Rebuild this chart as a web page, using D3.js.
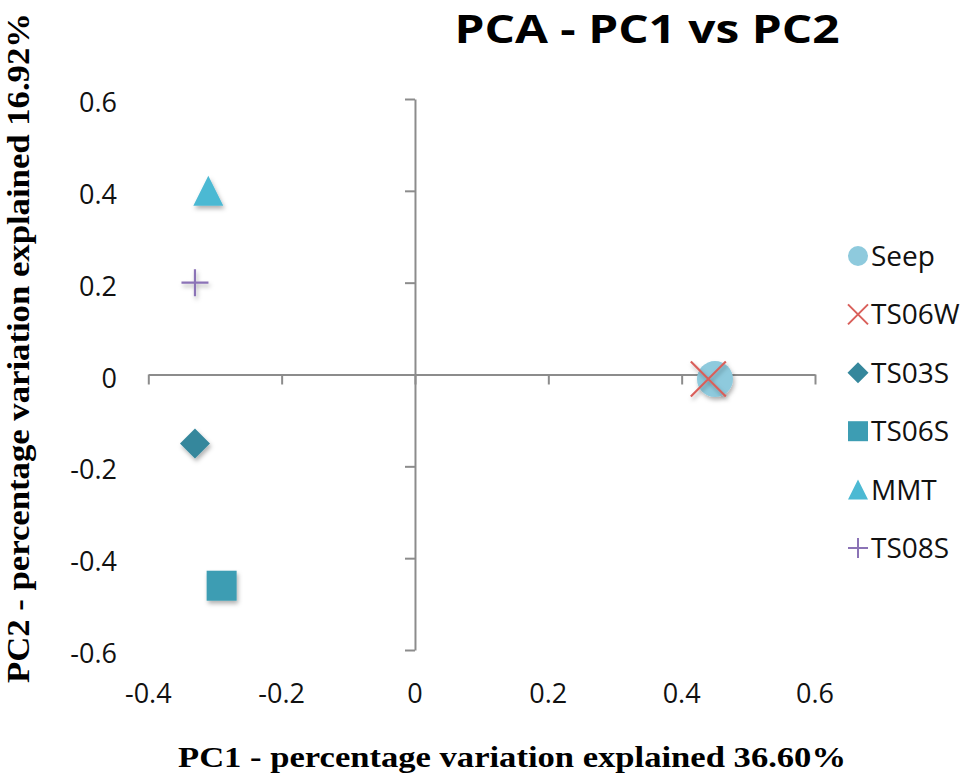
<!DOCTYPE html>
<html>
<head>
<meta charset="utf-8">
<script src="https://cdn.jsdelivr.net/npm/d3@7"></script>
<style>
  body { margin: 0; background: #fff; }
  svg { display: block; }
</style>
</head>
<body>
<div id="chart"></div>
<script>
// data
var seriesNames = ["Seep", "TS06W", "TS03S", "TS06S", "MMT", "TS08S"];
var pc1 = [0.45, 0.44, -0.33, -0.29, -0.31, -0.33];
var pc2 = [-0.01, -0.01, -0.15, -0.46, 0.40, 0.20];
var xTicks = [-0.4, -0.2, 0, 0.2, 0.4, 0.6];
var xTickLabels = ["-0.4", "-0.2", "0", "0.2", "0.4", "0.6"];
var yTicks = [0.6, 0.4, 0.2, 0, -0.2, -0.4, -0.6];
var yTickLabels = ["0.6", "0.4", "0.2", "0", "-0.2", "-0.4", "-0.6"];

var width = 970,
    height = 780;

var colors = ["#8ecadd", "#d95f5a", "#35879c", "#3d9db3", "#4cb9d3", "#8b73b6"];
var shapes = ["circle", "times", "diamond", "square", "triangle", "plus"];

var svg = d3.select("#chart")
  .append("svg")
  .attr("width", width)
  .attr("height", height);

// soft excel-like shadow under the markers
var defs = svg.append("defs");
defs.append("filter")
    .attr("id", "shadow")
    .attr("x", "-50%").attr("y", "-50%")
    .attr("width", "200%").attr("height", "200%")
  .append("feDropShadow")
    .attr("dx", 1.5).attr("dy", 3)
    .attr("stdDeviation", 2)
    .attr("flood-color", "#000")
    .attr("flood-opacity", 0.3);

var x = d3.scaleLinear().domain([-0.4, 0.6]).range([148.3, 815]);
var y = d3.scaleLinear().domain([-0.6, 0.6]).range([650, 99]);

// custom symbol types, size = pixel width of the marker
var box = {
  draw: function(ctx, s) { var h = s / 2; ctx.rect(-h, -h, s, s); }
};
var tri = {
  draw: function(ctx, s) { var h = s / 2; ctx.moveTo(0, -h); ctx.lineTo(h, h); ctx.lineTo(-h, h); ctx.closePath(); }
};
var dia = {
  draw: function(ctx, s) { var h = s / 2; ctx.moveTo(0, -h); ctx.lineTo(h, 0); ctx.lineTo(0, h); ctx.lineTo(-h, 0); ctx.closePath(); }
};
var ring = {
  draw: function(ctx, s) { var r = s / 2; ctx.moveTo(r, 0); ctx.arc(0, 0, r, 0, 2 * Math.PI); }
};
var cross = {
  draw: function(ctx, s) { var h = s / 2; ctx.moveTo(-h, 0); ctx.lineTo(h, 0); ctx.moveTo(0, -h); ctx.lineTo(0, h); }
};
var times = {
  draw: function(ctx, s) { var h = s / 2; ctx.moveTo(-h, -h); ctx.lineTo(h, h); ctx.moveTo(h, -h); ctx.lineTo(-h, h); }
};
var symType = { circle: ring, times: times, diamond: dia, square: box, triangle: tri, plus: cross };
var plotSize = { circle: 36, times: 35, diamond: 30, square: 30, triangle: 30, plus: 27 };
var legendSize = { circle: 20, times: 20, diamond: 21, square: 20, triangle: 20, plus: 20 };
var isStroke = function(s) { return s == "times" || s == "plus"; };

// axes through the origin
var xAxis = d3.axisBottom(x)
  .tickValues(xTicks)
  .tickSize(10)
  .tickSizeOuter(0)
  .tickFormat("");
var yAxis = d3.axisLeft(y)
  .tickValues(yTicks)
  .tickSize(10)
  .tickSizeOuter(0)
  .tickFormat("");

var gx = svg.append("g")
  .attr("transform", "translate(0," + y(0) + ")")
  .call(xAxis);
var gy = svg.append("g")
  .attr("transform", "translate(" + x(0) + ",0)")
  .call(yAxis);
[gx, gy].forEach(function(g) {
  g.selectAll("path, line")
    .attr("stroke", "#8c8c8c")
    .attr("stroke-width", 2);
});

// tick labels sit at the low edge like excel does
svg.append("g")
  .selectAll("text")
  .data(xTicks)
  .join("text")
  .attr("x", function(d) { return x(d); })
  .attr("y", 703)
  .attr("text-anchor", "middle")
  .style("font-family", "'Open Sans', sans-serif")
  .style("font-size", "27px")
  .attr("fill", "#111")
  .text(function(d, i) { return xTickLabels[i]; });

svg.append("g")
  .selectAll("text")
  .data(yTicks)
  .join("text")
  .attr("x", 117)
  .attr("y", function(d) { return y(d) + 13; })
  .attr("text-anchor", "end")
  .style("font-family", "'Open Sans', sans-serif")
  .style("font-size", "27px")
  .attr("fill", "#111")
  .text(function(d, i) { return yTickLabels[i]; });

// points
var points = seriesNames.map(function(name, i) {
  return { name: name, x: pc1[i], y: pc2[i], color: colors[i], shape: shapes[i] };
});

svg.append("g")
  .selectAll("path")
  .data(points)
  .join("path")
  .attr("transform", function(d) { return "translate(" + x(d.x) + "," + y(d.y) + ")"; })
  .attr("d", function(d) { return d3.symbol().type(symType[d.shape]).size(plotSize[d.shape])(); })
  .attr("fill", function(d) { return isStroke(d.shape) ? "none" : d.color; })
  .attr("stroke", function(d) { return isStroke(d.shape) ? d.color : "none"; })
  .attr("stroke-width", 2.2)
  .attr("filter", "url(#shadow)");

// legend
var legend = svg.append("g")
  .selectAll("g")
  .data(points)
  .join("g")
  .attr("transform", function(d, i) { return "translate(858," + (256 + i * 58.4) + ")"; });

legend.append("path")
  .attr("d", function(d) { return d3.symbol().type(symType[d.shape]).size(legendSize[d.shape])(); })
  .attr("fill", function(d) { return isStroke(d.shape) ? "none" : d.color; })
  .attr("stroke", function(d) { return isStroke(d.shape) ? d.color : "none"; })
  .attr("stroke-width", 2);

legend.append("text")
  .attr("x", 13)
  .attr("y", 10)
  .style("font-family", "'Open Sans', sans-serif")
  .style("font-size", "28px")
  .attr("fill", "#111")
  .text(function(d) { return d.name; });

// titles
svg.append("text")
  .attr("x", 647)
  .attr("y", 43)
  .attr("text-anchor", "middle")
  .attr("textLength", 385)
  .attr("lengthAdjust", "spacingAndGlyphs")
  .style("font-family", "'Open Sans', sans-serif")
  .style("font-weight", "bold")
  .style("font-size", "39px")
  .text("PCA - PC1 vs PC2");

svg.append("text")
  .attr("x", 512)
  .attr("y", 767)
  .attr("text-anchor", "middle")
  .attr("textLength", 668)
  .attr("lengthAdjust", "spacingAndGlyphs")
  .style("font-family", "'Liberation Serif', 'Times New Roman', serif")
  .style("font-weight", "bold")
  .style("font-size", "30px")
  .text("PC1 - percentage variation explained 36.60%");

svg.append("text")
  .attr("transform", "translate(29,348) rotate(-90)")
  .attr("text-anchor", "middle")
  .attr("textLength", 670)
  .attr("lengthAdjust", "spacingAndGlyphs")
  .style("font-family", "'Liberation Serif', 'Times New Roman', serif")
  .style("font-weight", "bold")
  .style("font-size", "31px")
  .text("PC2 - percentage variation explained 16.92%");
</script>
</body>
</html>
